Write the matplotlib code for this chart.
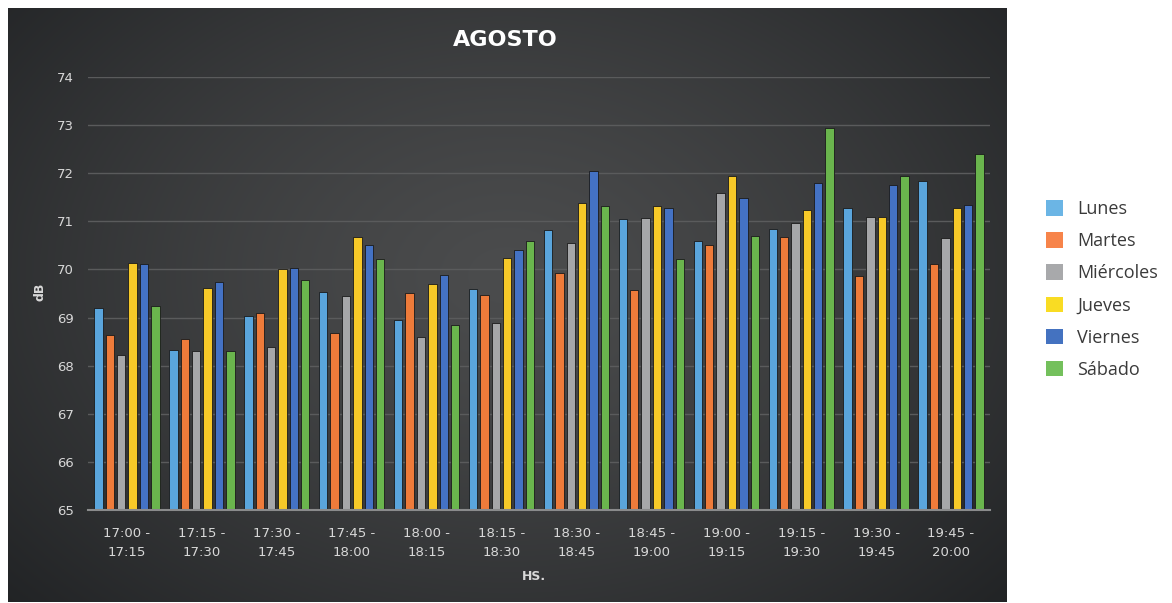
import numpy as np
import matplotlib
matplotlib.use("Agg")
import matplotlib.pyplot as plt
from matplotlib.patches import Patch

# data
franjas = ['17:00 -\n17:15', '17:15 -\n17:30', '17:30 -\n17:45', '17:45 -\n18:00',
           '18:00 -\n18:15', '18:15 -\n18:30', '18:30 -\n18:45', '18:45 -\n19:00',
           '19:00 -\n19:15', '19:15 -\n19:30', '19:30 -\n19:45', '19:45 -\n20:00']
dias = ['Lunes', 'Martes', 'Miércoles', 'Jueves', 'Viernes', 'Sábado']

lunes = [69.19, 68.33, 69.04, 69.53, 68.94, 69.60, 70.82, 71.04, 70.59, 70.84, 71.28, 71.84]
martes = [68.64, 68.56, 69.10, 68.67, 69.51, 69.47, 69.93, 69.58, 70.51, 70.67, 69.86, 70.12]
miercoles = [68.23, 68.30, 68.38, 69.44, 68.60, 68.88, 70.56, 71.06, 71.59, 70.97, 71.10, 70.65]
jueves = [70.14, 69.61, 70.01, 70.67, 69.70, 70.24, 71.39, 71.31, 71.95, 71.24, 71.09, 71.28]
viernes = [70.11, 69.73, 70.03, 70.51, 69.88, 70.41, 72.04, 71.28, 71.49, 71.80, 71.76, 71.33]
sabado = [69.25, 68.31, 69.78, 70.22, 68.84, 70.59, 71.31, 70.21, 70.70, 72.94, 71.95, 72.40]

series = [lunes, martes, miercoles, jueves, viernes, sabado]
bar_colors = ['#5aa5dc', '#ee7b3a', '#a6a7a9', '#f7c928', '#4472c4', '#6ab54d']
legend_colors = ['#6bb5e5', '#f7844a', '#a8a9ab', '#f9dc23', '#4472c0', '#74c05c']

fig = plt.figure(figsize=(11.72, 6.03), dpi=100)
fig.patch.set_facecolor('white')

# dark panel with a soft radial gradient
bg = fig.add_axes([8 / 1172, 1 - 602 / 603, 999 / 1172, 594 / 603])
yy, xx = np.mgrid[0:1:300j, 0:1:500j]
d = np.sqrt(((xx - 0.5) / 0.75) ** 2 + ((yy - 0.45) / 0.9) ** 2)
t = np.clip(d, 0, 1) ** 1.3
c_in = np.array([0x4b, 0x4c, 0x4d]) / 255
c_out = np.array([0x1c, 0x1e, 0x20]) / 255
img = c_in[None, None, :] * (1 - t[..., None]) + c_out[None, None, :] * t[..., None]
bg.imshow(img, aspect='auto', extent=[0, 1, 0, 1], origin='upper')
bg.axis('off')

fnt = 'DejaVu Sans'

ax = fig.add_axes([88 / 1172, 1 - 510 / 603, 902 / 1172, 433 / 603])
ax.set_facecolor('none')
x = np.arange(len(franjas))
slot = 0.152
bw = 0.112
for i, (vals, col) in enumerate(zip(series, bar_colors)):
    ax.bar(x + (i - 2.5) * slot, np.array(vals) - 65, bottom=65, width=bw,
           color=col, edgecolor='#1a1a1a', linewidth=0.6, zorder=3)

ax.set_ylim(65, 74)
ax.set_xlim(-0.52, 11.52)
ax.set_yticks(range(65, 75))
ax.set_xticks(x)
ax.set_xticklabels(franjas, family=fnt, fontsize=9.5, color='#d8d8d8', linespacing=1.6)
for lab in ax.get_yticklabels():
    lab.set_family(fnt)
    lab.set_fontsize(9.5)
    lab.set_color('#d8d8d8')
ax.tick_params(length=0, pad=10)
ax.tick_params(axis='x', pad=12)
ax.grid(axis='y', color='#5a5b5c', linewidth=1, zorder=0)
for s in ['top', 'right', 'left']:
    ax.spines[s].set_visible(False)
ax.spines['bottom'].set_color('#8a8b8c')
ax.spines['bottom'].set_linewidth(1.5)
ax.spines['bottom'].set_zorder(4)

fig.text(505 / 1172, 1 - 40 / 603, 'AGOSTO', ha='center', va='center',
         fontsize=16, fontweight='bold', color='white', family=fnt)
fig.text(534 / 1172, 1 - 576 / 603, 'HS.', ha='center', va='center',
         fontsize=9, fontweight='bold', color='#d8d8d8', family=fnt)
fig.text(40 / 1172, 1 - 292 / 603, 'dB', ha='center', va='center', rotation=90,
         fontsize=9, fontweight='bold', color='#d8d8d8', family=fnt)

handles = [Patch(facecolor=c, edgecolor='none') for c in legend_colors]
leg = fig.legend(handles, dias, loc='upper left',
                 bbox_to_anchor=(1030 / 1172, 1 - 184 / 603),
                 frameon=False, prop={'family': 'Open Sans', 'size': 13},
                 handlelength=0.95, handleheight=0.95, handletextpad=0.75,
                 labelspacing=0.78)
for txt in leg.get_texts():
    txt.set_color('#3a3a3a')

fig.savefig('out.png', dpi=100, facecolor='white')
